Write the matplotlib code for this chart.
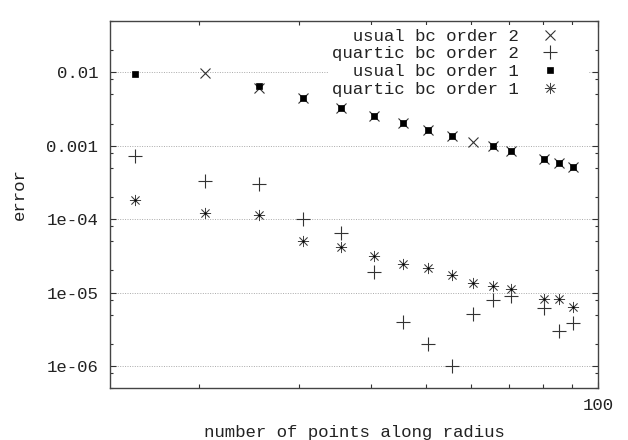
import matplotlib
matplotlib.use("Agg")
import matplotlib.pyplot as plt
from matplotlib.ticker import FixedLocator, FixedFormatter, NullFormatter

# ---- data ----
usual_o2_x = [20.5, 25.5, 30.5, 35.5, 40.5, 45.5, 50.5, 55.5, 60.5, 65.5, 70.5, 80.5, 85.5, 90.5]
usual_o2_y = [0.0097, 0.0062, 0.0045, 0.0033, 0.00254, 0.00202, 0.00164, 0.00136,
              0.00112, 0.00098, 0.000847, 0.00066, 0.000575, 0.000513]

usual_o1_x = [15.5, 25.5, 30.5, 35.5, 40.5, 45.5, 50.5, 55.5, 65.5, 70.5, 80.5, 85.5, 90.5]
usual_o1_y = [0.0096, 0.0065, 0.00451, 0.0033, 0.00254, 0.00202, 0.00164, 0.00136,
              0.00098, 0.000847, 0.00066, 0.000575, 0.000513]

quartic_x = [15.5, 20.5, 25.5, 30.5, 35.5, 40.5, 45.5, 50.5, 55.5, 60.5, 65.5, 70.5, 80.5, 85.5, 90.5]
quartic_o2_y = [7.3e-4, 3.33e-4, 3.0e-4, 1.0e-4, 6.4e-5, 1.92e-5, 4.0e-6, 2.0e-6,
                1.0e-6, 5.1e-6, 7.9e-6, 9.1e-6, 6.1e-6, 3.0e-6, 3.9e-6]
quartic_o1_y = [1.8e-4, 1.2e-4, 1.13e-4, 5.1e-5, 4.2e-5, 3.14e-5, 2.44e-5, 2.14e-5,
                1.73e-5, 1.33e-5, 1.23e-5, 1.13e-5, 8.15e-6, 8.15e-6, 6.3e-6]

labels = ["  usual bc order 2", "quartic bc order 2", "  usual bc order 1", "quartic bc order 1"]

y_major = [1e-6, 1e-5, 1e-4, 1e-3, 1e-2]
y_major_labels = ["1e-06", "1e-05", "1e-04", "0.001", "0.01"]
x_major = [100]
x_major_labels = ["100"]
x_minor = [20, 30, 40, 50, 60, 70, 80, 90]

# ---- style ----
FONT = "Liberation Mono"
FS = 12.5
TXT = "#222222"
plt.rcParams["font.family"] = [FONT, "DejaVu Sans Mono"]

fig = plt.figure(figsize=(6.28, 4.40), dpi=100)
ax = fig.add_axes([110 / 628, 1 - 388 / 440, 488 / 628, 367 / 440])

ax.set_xscale("log")
ax.set_yscale("log")
ax.set_xlim(14.0, 100)
ax.set_ylim(5e-7, 5e-2)

ax.plot(usual_o2_x, usual_o2_y, ls="none", marker="x", ms=6.5, mew=0.8,
        color="#333333", label=labels[0])
ax.plot(quartic_x, quartic_o2_y, ls="none", marker="+", ms=9.5, mew=0.8,
        color="#333333", label=labels[1])
ax.plot(usual_o1_x, usual_o1_y, ls="none", marker="s", ms=5, mew=0.5,
        color="black", label=labels[2])
ax.plot(quartic_x, quartic_o1_y, ls="none", marker=(8, 2, 0), ms=8, mew=0.55,
        color="#444444", label=labels[3])
ax.plot(quartic_x, quartic_o1_y, ls="none", marker="o", ms=1.6, mew=0,
        color="black", label="_nolegend_")

# ticks
ax.xaxis.set_major_locator(FixedLocator(x_major))
ax.xaxis.set_major_formatter(FixedFormatter(x_major_labels))
ax.xaxis.set_minor_locator(FixedLocator(x_minor))
ax.xaxis.set_minor_formatter(NullFormatter())

ax.yaxis.set_major_locator(FixedLocator(y_major))
ax.yaxis.set_major_formatter(FixedFormatter(y_major_labels))
y_minor = [m * 10.0 ** k for k in range(-7, -1) for m in (2, 5, 8)]
ax.yaxis.set_minor_locator(FixedLocator(y_minor))
ax.yaxis.set_minor_formatter(NullFormatter())

ax.tick_params(which="both", direction="in", top=True, right=True,
               colors="#333333", labelcolor=TXT, labelsize=FS, width=0.8)
ax.tick_params(axis="y", which="major", length=4.5, pad=8.5)
ax.tick_params(axis="y", which="minor", length=2.2)
ax.tick_params(axis="x", which="major", length=4.5, pad=7)
ax.tick_params(axis="x", which="minor", length=3.2)

for s in ax.spines.values():
    s.set_color("#444444")
    s.set_linewidth(1.0)

ax.grid(axis="y", which="major", ls=(0, (1, 1.5)), color="#aaaaaa", lw=0.7)
ax.set_axisbelow(True)

ax.set_xlabel("number of points along radius", fontsize=FS, color=TXT)
ax.xaxis.set_label_coords(0.5, (388 - 432) / 367)
ax.xaxis.label.set_va("center")
ax.set_ylabel("error", fontsize=FS, color=TXT)
ax.yaxis.set_label_coords((19 - 110) / 488, (388 - 194.5) / 367)
ax.yaxis.label.set_va("center")

leg = ax.legend(loc="upper right", bbox_to_anchor=(588 / 628, 1 - 25 / 440),
                bbox_transform=fig.transFigure, markerfirst=False,
                frameon=True, fancybox=False, framealpha=1, facecolor="white",
                edgecolor="none", fontsize=FS, labelspacing=0.15,
                handlelength=3.96, handletextpad=-0.2, borderpad=0.2,
                borderaxespad=0)
for t in leg.get_texts():
    t.set_color(TXT)

fig.savefig("out.png", dpi=100)
